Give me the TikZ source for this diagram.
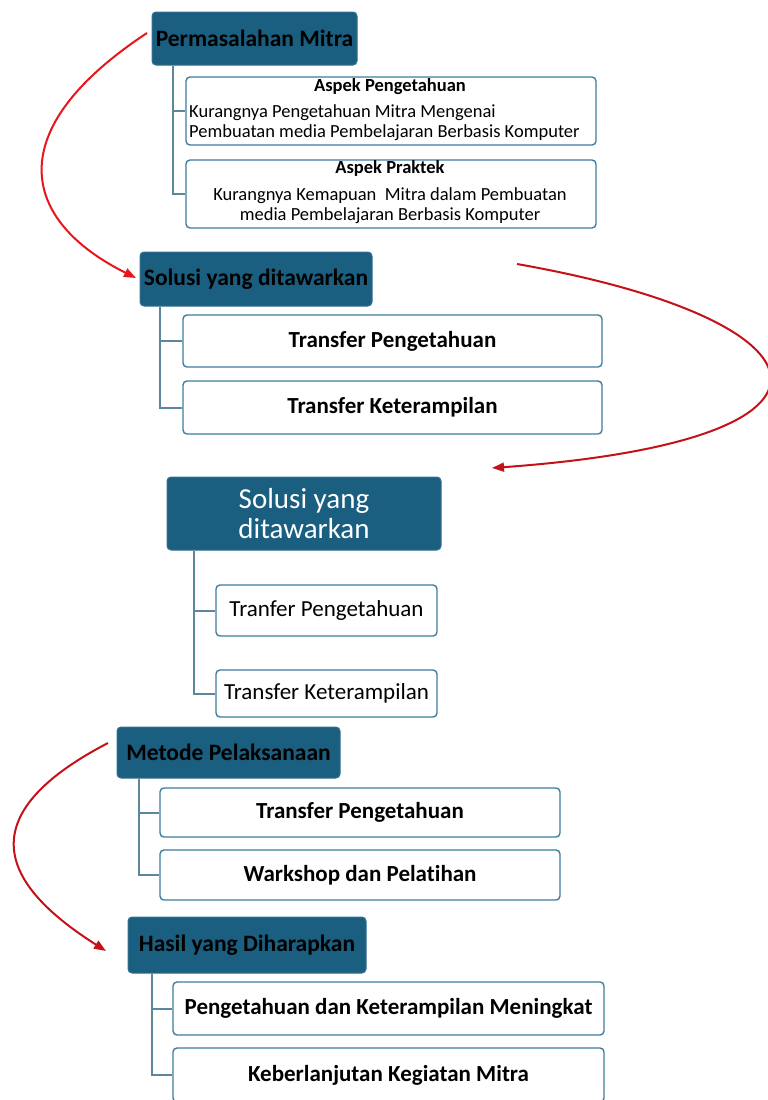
\documentclass[tikz,border=0pt]{standalone}
\usepackage{fontspec}
\setmainfont{Carlito}[Ligatures=NoCommon]
\usetikzlibrary{arrows.meta, positioning, calc}

\definecolor{headblue}{RGB}{26,94,128}
\definecolor{headedge}{RGB}{52,112,142}
\definecolor{itemedge}{RGB}{62,125,160}
\definecolor{treeline}{RGB}{92,134,156}
\definecolor{brightred}{RGB}{230,22,28}
\definecolor{darkred}{RGB}{196,18,24}

\begin{document}
\begin{tikzpicture}[x=1pt, y=-1pt,
    head/.style={draw=headedge, fill=headblue, rounded corners=4pt, line width=1pt, inner sep=0pt, font=\fontsize{23.5}{27}\selectfont\bfseries},
    item/.style={draw=itemedge, fill=white, rounded corners=4pt, line width=1.4pt, inner sep=0pt, font=\fontsize{23}{26}\selectfont\bfseries},
    plainitem/.style={item, font=\fontsize{23}{26}\selectfont},
    aspecthead/.style={inner sep=0pt, font=\fontsize{18.5}{20}\selectfont\bfseries},
    aspectbody/.style={inner sep=0pt, font=\fontsize{18.5}{20}\selectfont},
    tree/.style={draw=treeline, line width=2pt},
    flow/.style={-{Triangle[length=12pt, width=9pt]}, line width=2pt},
]
    \useasboundingbox (0,0) rectangle (768,1100);

    % Permasalahan Mitra with its two aspects
    \node[head, minimum width=205pt, minimum height=53pt] (pm) at (254.5,38.5) {Permasalahan Mitra};
    \node[item, minimum width=410pt, minimum height=68pt] (apeng) at (391,111) {};
    \node[item, minimum width=410pt, minimum height=68pt] (aprak) at (391,194) {};
    \node[aspecthead] (apengT) at (390,87) {Aspek Pengetahuan};
    \node[aspectbody, anchor=west, align=left] (apengB) at (189,123) {Kurangnya Pengetahuan Mitra Mengenai\\Pembuatan media Pembelajaran Berbasis Komputer};
    \node[aspecthead] (aprakT) at (390,168) {Aspek Praktek};
    \node[aspectbody, align=center] (aprakB) at (390,205.5) {Kurangnya Kemapuan\ \ Mitra dalam Pembuatan\\media Pembelajaran Berbasis Komputer};
    \draw[tree] ([xshift=21pt]pm.south west) |- (apeng.west);
    \draw[tree] ([xshift=21pt]pm.south west) |- (aprak.west);

    % Solusi yang ditawarkan (first)
    \node[head, minimum width=232pt, minimum height=54pt] (sol1) at (256,279) {Solusi yang ditawarkan};
    \node[item, minimum width=419pt, minimum height=52pt] (tp1) at (392.5,341) {Transfer Pengetahuan};
    \node[item, minimum width=419pt, minimum height=53pt] (tk1) at (392.5,407.5) {Transfer Keterampilan};
    \draw[tree] ([xshift=20pt]sol1.south west) |- (tp1.west);
    \draw[tree] ([xshift=20pt]sol1.south west) |- (tk1.west);

    % Solusi yang ditawarkan (second)
    \node[head, minimum width=274pt, minimum height=73pt, align=center, text=white,
          font=\fontsize{29}{30}\selectfont] (sol2) at (304,513.5) {Solusi yang\\ditawarkan};
    \node[plainitem, minimum width=221pt, minimum height=51pt] (tp2) at (326.5,610.5) {Tranfer Pengetahuan};
    \node[plainitem, minimum width=221pt, minimum height=47pt] (tk2) at (326.5,693.5) {Transfer Keterampilan};
    \draw[tree] ([xshift=27pt]sol2.south west) |- (tp2.west);
    \draw[tree] ([xshift=27pt]sol2.south west) |- (tk2.west);

    % Metode Pelaksanaan
    \node[head, minimum width=223pt, minimum height=51pt] (mp) at (228.5,752.5) {Metode Pelaksanaan};
    \node[item, minimum width=400pt, minimum height=49pt] (tp3) at (360,812.5) {Transfer Pengetahuan};
    \node[item, minimum width=400pt, minimum height=50pt] (wp) at (360,875) {Warkshop dan Pelatihan};
    \draw[tree] ([xshift=22pt]mp.south west) |- (tp3.west);
    \draw[tree] ([xshift=22pt]mp.south west) |- (wp.west);

    % Hasil yang Diharapkan
    \node[head, minimum width=238pt, minimum height=56pt] (hd) at (247,945) {Hasil yang Diharapkan};
    \node[item, minimum width=431pt, minimum height=53pt] (pk) at (388.5,1008.5) {Pengetahuan dan Keterampilan Meningkat};
    \node[item, minimum width=431pt, minimum height=54pt] (kk) at (388.5,1075) {Keberlanjutan Kegiatan Mitra};
    \draw[tree] ([xshift=24pt]hd.south west) |- (pk.west);
    \draw[tree] ([xshift=24pt]hd.south west) |- (kk.west);

    % red curved arrows between the stages
    \coordinate (a1s) at (147,33);
    \coordinate (a1e) at (136,278);
    \coordinate (a2s) at (517,264);
    \coordinate (a2e) at (492,468);
    \coordinate (a3s) at (108,743);
    \coordinate (a3e) at (106,951);
    \draw[flow, brightred] (a1s) .. controls (0,130) and (20,220) .. (a1e);
    \draw[flow, darkred] (a2s) .. controls (835,320) and (880,440) .. (a2e);
    \draw[flow, darkred] (a3s) .. controls (-40,820) and (10,890) .. (a3e);

\end{tikzpicture}
\end{document}
